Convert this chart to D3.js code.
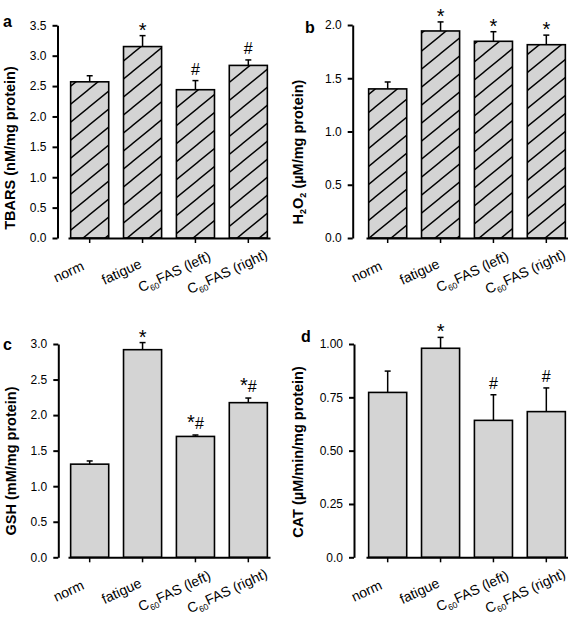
<!DOCTYPE html>
<html><head><meta charset="utf-8">
<script src="https://cdn.jsdelivr.net/npm/d3@7"></script>
<style>body{margin:0;background:#fff}svg{display:block;font-family:"Liberation Sans",Arial,sans-serif}</style>
</head><body>
<svg id="c" width="568" height="619"></svg>
<script>
const categories = ["norm", "fatigue", "C60FAS (left)", "C60FAS (right)"];

const tbars = [2.57, 3.15, 2.44, 2.84];
const tbarsErr = [0.10, 0.18, 0.15, 0.09];
const tbarsMarks = ["", "*", "#", "#"];
const tbarsTicks = [0, 0.5, 1.0, 1.5, 2.0, 2.5, 3.0, 3.5];
const tbarsTickLabels = ["0.0", "0.5", "1.0", "1.5", "2.0", "2.5", "3.0", "3.5"];

const h2o2 = [1.40, 1.944, 1.847, 1.815];
const h2o2Err = [0.065, 0.085, 0.09, 0.09];
const h2o2Marks = ["", "*", "*", "*"];
const h2o2Ticks = [0, 0.5, 1.0, 1.5, 2.0];
const h2o2TickLabels = ["0.0", "0.5", "1.0", "1.5", "2.0"];

const gsh = [1.31, 2.92, 1.70, 2.175];
const gshErr = [0.045, 0.10, 0.02, 0.065];
const gshMarks = ["", "*", "*#", "*#"];
const gshTicks = [0, 0.5, 1.0, 1.5, 2.0, 2.5, 3.0];
const gshTickLabels = ["0.0", "0.5", "1.0", "1.5", "2.0", "2.5", "3.0"];

const cat = [0.773, 0.98, 0.642, 0.683];
const catErr = [0.10, 0.051, 0.12, 0.111];
const catMarks = ["", "*", "#", "#"];
const catTicks = [0, 0.25, 0.50, 0.75, 1.00];
const catTickLabels = ["0.0", "0.25", "0.50", "0.75", "1.00"];

const panels = [
  {letter: "a", title: [["TBARS (nM/mg protein)", false]], values: tbars, errs: tbarsErr, marks: tbarsMarks,
   ticks: tbarsTicks, tickLabels: tbarsTickLabels, hatched: true,
   axisX: 57.5, top: 25.3, bottom: 238, xr: [68, 270], titleX: 15, titleY: 148, letterX: 3, letterY: 27},
  {letter: "b", title: [["H", false], ["2", true], ["O", false], ["2", true], [" (\u00b5M/mg protein)", false]],
   values: h2o2, errs: h2o2Err, marks: h2o2Marks, ticks: h2o2Ticks, tickLabels: h2o2TickLabels, hatched: true,
   axisX: 352.7, top: 25, bottom: 238, xr: [366, 568], titleX: 303, titleY: 152, letterX: 305, letterY: 33},
  {letter: "c", title: [["GSH (mM/mg protein)", false]], values: gsh, errs: gshErr, marks: gshMarks,
   ticks: gshTicks, tickLabels: gshTickLabels, hatched: false,
   axisX: 58.3, top: 344, bottom: 557.3, xr: [68, 270], titleX: 16, titleY: 461, letterX: 3, letterY: 350},
  {letter: "d", title: [["CAT (\u00b5M/min/mg protein)", false]], values: cat, errs: catErr, marks: catMarks,
   ticks: catTicks, tickLabels: catTickLabels, hatched: false,
   axisX: 354, top: 344, bottom: 557.3, xr: [366, 568], titleX: 303, titleY: 452, letterX: 301, letterY: 342}
];

const svg = d3.select("#c");
const FILL = "#d4d4d4";

const defs = svg.append("defs");
const pat = defs.append("pattern").attr("id", "hatch").attr("patternUnits", "userSpaceOnUse")
  .attr("width", 22).attr("height", 18);
pat.append("rect").attr("width", 22).attr("height", 18).attr("fill", FILL);
pat.append("path").attr("d", "M0,18L22,0M-11,9L11,-9M11,27L33,9")
  .attr("stroke", "#000").attr("stroke-width", 1.4).attr("fill", "none");

function addLabel(sel, str) {
  const m = str.match(/^C60(.*)$/);
  if (m) {
    sel.append("tspan").text("C");
    sel.append("tspan").attr("font-size", "8.5px").attr("dy", 3.5).text("60");
    sel.append("tspan").attr("dy", -3.5).text(m[1]);
  } else sel.text(str);
}

panels.forEach(p => {
  const g = svg.append("g");
  const maxV = p.ticks[p.ticks.length - 1];
  const y = d3.scaleLinear().domain([0, maxV]).range([p.bottom, p.top]);
  const x = d3.scaleBand().domain(categories).range(p.xr).paddingInner(0.28).paddingOuter(0.05);

  const data = categories.map((c, i) => ({c, v: p.values[i], e: p.errs[i], m: p.marks[i]}));

  // error bars
  const eb = g.append("g").attr("stroke", "#000").attr("stroke-width", 1.5);
  data.forEach(d => {
    const cx = x(d.c) + x.bandwidth() / 2;
    eb.append("line").attr("x1", cx).attr("x2", cx).attr("y1", y(d.v)).attr("y2", y(d.v + d.e));
    eb.append("line").attr("x1", cx - 3).attr("x2", cx + 3).attr("y1", y(d.v + d.e)).attr("y2", y(d.v + d.e));
  });

  // bars
  g.append("g").selectAll("rect").data(data).join("rect")
    .attr("x", d => x(d.c)).attr("width", x.bandwidth())
    .attr("y", d => y(d.v)).attr("height", d => p.bottom - y(d.v))
    .attr("fill", p.hatched ? "url(#hatch)" : FILL)
    .attr("stroke", "#000").attr("stroke-width", 1.6);

  // annotations
  data.forEach(d => {
    if (!d.m) return;
    const cx = x(d.c) + x.bandwidth() / 2;
    const top = y(d.v + d.e);
    const onlyStar = d.m === "*";
    const t = g.append("text").attr("x", cx).attr("y", onlyStar ? top + 1 : top - 6)
      .attr("text-anchor", "middle");
    d.m.split("").forEach(ch => {
      t.append("tspan").attr("font-size", ch === "*" ? "20px" : "16px").text(ch);
    });
  });

  // y axis
  const ya = g.append("g").attr("transform", `translate(${p.axisX},0)`)
    .call(d3.axisLeft(y).tickValues(p.ticks).tickFormat((d, i) => p.tickLabels[i]).tickSize(5).tickSizeOuter(0).tickPadding(6));
  ya.select(".domain").attr("stroke-width", 2);
  ya.selectAll(".tick line").attr("stroke-width", 2);
  ya.selectAll(".tick text").attr("font-size", "12px").attr("font-family", "Liberation Sans, Arial, sans-serif").attr("fill", "#000");

  // x axis
  const xa = g.append("g").attr("transform", `translate(0,${p.bottom})`)
    .call(d3.axisBottom(x).tickSize(5).tickSizeOuter(0).tickFormat(""));
  xa.select(".domain").attr("stroke-width", 2);
  xa.selectAll(".tick line").attr("stroke-width", 1.5);
  xa.selectAll(".tick text").remove();

  // x labels
  categories.forEach(c => {
    const cx = x(c) + x.bandwidth() / 2;
    const t = g.append("text")
      .attr("transform", `translate(${cx - 19},${p.bottom + 38}) rotate(-25)`)
      .attr("text-anchor", "middle").attr("font-size", "14px");
    addLabel(t, c);
  });

  // y title
  const tt = g.append("text")
    .attr("transform", `translate(${p.titleX},${p.titleY}) rotate(-90)`)
    .attr("text-anchor", "middle").attr("font-size", "14.5px").attr("font-weight", "bold");
  p.title.forEach(([s, sub], i) => {
    const ts = tt.append("tspan").text(s);
    if (sub) ts.attr("font-size", "9px").attr("dy", 3);
    else if (i > 0 && p.title[i - 1][1]) ts.attr("dy", -3);
  });

  // panel letter
  g.append("text").attr("x", p.letterX).attr("y", p.letterY)
    .attr("font-size", "16px").attr("font-weight", "bold").text(p.letter);
});
</script>
</body></html>
